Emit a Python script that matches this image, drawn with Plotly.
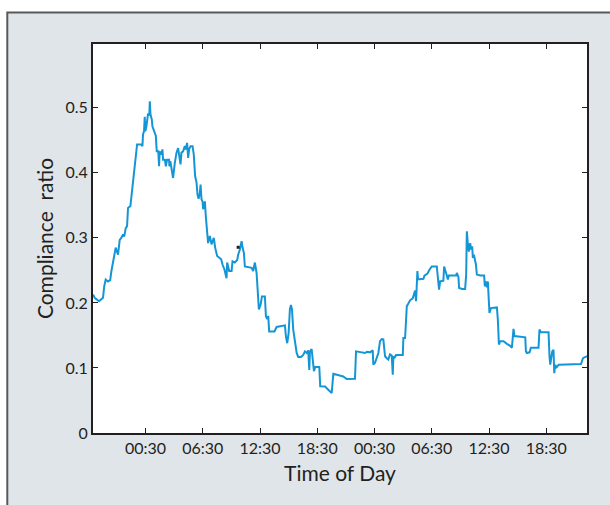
import plotly.graph_objects as go

# hours since 19:00 on day 1
hours = [0.00, 0.18, 0.63, 1.05, 1.17, 1.33, 1.57, 1.80, 1.93, 2.10, 2.38, 2.62, 2.80, 2.96, 3.15, 3.27, 3.43, 3.57, 3.67, 3.92,
         4.20, 4.48, 4.62, 5.08, 5.18, 5.24, 5.35, 5.42, 5.48, 5.58, 5.66, 5.77, 5.90, 5.95, 6.02, 6.16, 6.23, 6.37, 6.47, 6.58,
         6.68, 6.84, 6.92, 6.99, 7.15, 7.28, 7.34, 7.54, 7.63, 7.76, 7.97, 8.00, 8.10, 8.22, 8.39, 8.57, 8.75, 8.92, 9.02, 9.17,
         9.27, 9.44, 9.62, 9.72, 9.86, 9.97, 10.07, 10.22, 10.43, 10.56, 10.70, 10.85, 10.95, 11.06, 11.19, 11.27, 11.37, 11.48, 11.54, 11.72,
         11.82, 11.96, 12.06, 12.24, 12.42, 12.66, 12.80, 13.01, 13.22, 13.43, 13.57, 13.78, 13.99, 14.06, 14.27, 14.52, 14.62, 14.86, 15.11, 15.21,
         15.39, 15.57, 15.67, 15.81, 15.91, 16.28, 16.62, 16.78, 16.96, 17.14, 17.25, 17.38, 17.56, 17.70, 18.01, 18.12, 18.26, 18.36, 18.46, 19.01,
         19.24, 19.66, 20.11, 20.21, 20.35, 20.50, 20.63, 20.74, 20.85, 20.98, 21.16, 21.34, 21.50, 21.79, 22.03, 22.21, 22.39, 22.55, 22.66, 22.73,
         22.91, 23.01, 23.15, 23.29, 23.71, 23.81, 24.31, 24.65, 25.01, 25.18, 25.70, 26.22, 26.58, 27.14, 27.45, 27.56, 27.98, 28.50, 28.71, 29.03,
         29.31, 29.37, 29.55, 29.73, 29.90, 30.07, 30.25, 30.42, 30.60, 30.78, 30.94, 31.12, 31.30, 31.41, 31.47, 31.57, 31.75, 32.46, 32.52, 32.70,
         32.88, 33.04, 33.22, 33.50, 33.64, 33.75, 33.85, 33.92, 33.99, 34.06, 34.45, 34.62, 34.73, 35.04, 35.25, 35.50, 36.02, 36.13, 36.26, 36.37,
         36.71, 36.79, 36.92, 37.07, 37.18, 37.28, 38.05, 38.12, 38.29, 38.36, 38.68, 38.99, 39.10, 39.17, 39.27, 39.38, 39.52, 39.62, 39.73, 39.80,
         39.91, 40.01, 40.12, 40.22, 40.57, 40.98, 41.06, 41.16, 41.27, 41.37, 41.48, 41.54, 41.69, 42.32, 42.42, 42.53, 42.66, 43.01, 43.37, 43.71,
         43.89, 43.99, 44.06, 44.16, 44.76, 45.29, 45.36, 45.46, 45.74, 45.88, 46.68, 46.78, 46.93, 47.73, 47.83, 47.91, 48.01, 48.12, 48.25, 48.33,
         48.43, 48.54, 48.67, 48.82, 50.35, 51.13, 51.34, 51.76]

ratio = [0.213, 0.2077, 0.2025, 0.208, 0.225, 0.236, 0.233, 0.235, 0.249, 0.262, 0.285, 0.274, 0.297, 0.300, 0.305, 0.302, 0.315, 0.318, 0.346, 0.349,
         0.390, 0.426, 0.4435, 0.4435, 0.441, 0.459, 0.464, 0.486, 0.464, 0.470, 0.477, 0.491, 0.488, 0.510, 0.490, 0.482, 0.471, 0.466, 0.4615, 0.457,
         0.433, 0.433, 0.410, 0.433, 0.428, 0.436, 0.420, 0.420, 0.410, 0.420, 0.420, 0.410, 0.418, 0.408, 0.392, 0.415, 0.431, 0.438, 0.425, 0.413,
         0.431, 0.433, 0.441, 0.436, 0.446, 0.423, 0.436, 0.441, 0.441, 0.428, 0.395, 0.385, 0.367, 0.360, 0.368, 0.382, 0.359, 0.356, 0.344, 0.356,
         0.333, 0.308, 0.292, 0.303, 0.290, 0.300, 0.285, 0.272, 0.270, 0.267, 0.259, 0.251, 0.238, 0.262, 0.249, 0.249, 0.264, 0.262, 0.266, 0.274,
         0.282, 0.295, 0.285, 0.277, 0.256, 0.255, 0.254, 0.249, 0.262, 0.246, 0.226, 0.190, 0.197, 0.210, 0.210, 0.179, 0.175, 0.180, 0.156, 0.156,
         0.163, 0.164, 0.1655, 0.149, 0.138, 0.154, 0.190, 0.197, 0.190, 0.159, 0.141, 0.123, 0.117, 0.117, 0.120, 0.1255, 0.123, 0.127, 0.097, 0.125,
         0.129, 0.118, 0.095, 0.1015, 0.1015, 0.0717, 0.0715, 0.0666, 0.0615, 0.091, 0.089, 0.087, 0.083, 0.084, 0.0835, 0.1255, 0.1245, 0.123, 0.125, 0.124,
         0.127, 0.105, 0.108, 0.115, 0.123, 0.141, 0.1445, 0.144, 0.118, 0.115, 0.113, 0.121, 0.119, 0.0897, 0.118, 0.115, 0.120, 0.120, 0.146, 0.146,
         0.195, 0.199, 0.204, 0.207, 0.216, 0.219, 0.2025, 0.2205, 0.249, 0.236, 0.236, 0.237, 0.242, 0.245, 0.251, 0.256, 0.256, 0.2435, 0.2205, 0.233,
         0.234, 0.256, 0.247, 0.242, 0.236, 0.242, 0.242, 0.246, 0.240, 0.223, 0.2215, 0.2215, 0.243, 0.310, 0.292, 0.279, 0.292, 0.282, 0.287, 0.269,
         0.274, 0.2665, 0.259, 0.2435, 0.242, 0.242, 0.2255, 0.233, 0.224, 0.233, 0.205, 0.1846, 0.192, 0.193, 0.174, 0.136, 0.141, 0.141, 0.137, 0.134,
         0.131, 0.1435, 0.160, 0.149, 0.1485, 0.147, 0.1255, 0.123, 0.124, 0.131, 0.131, 0.159, 0.155, 0.155, 0.118, 0.105, 0.115, 0.1255, 0.128, 0.092,
         0.105, 0.100, 0.103, 0.105, 0.1055, 0.106, 0.115, 0.118]

marker_hour = [15.21]
marker_ratio = [0.2855]

tick_hours = [5.5, 11.5, 17.5, 23.5, 29.5, 35.5, 41.5, 47.5]
tick_labels = ["00:30", "06:30", "12:30", "18:30", "00:30", "06:30", "12:30", "18:30"]
y_ticks = [0, 0.1, 0.2, 0.3, 0.4, 0.5]
y_tick_labels = ["0", "0.1", "0.2", "0.3", "0.4", "0.5"]

DARK = "#231f20"
FONT = "Lato, 'Open Sans', sans-serif"

fig = go.Figure()
fig.add_trace(go.Scatter(x=hours, y=ratio, mode="lines",
                         line=dict(color="#1496d6", width=2), showlegend=False, hoverinfo="skip"))
fig.add_trace(go.Scatter(x=marker_hour, y=marker_ratio, mode="markers",
                         marker=dict(symbol="square", size=3, color=DARK), showlegend=False, hoverinfo="skip"))

W, H = 610, 505
L, R, T, B = 93, 23, 44, 72
pw, ph = W - L - R, H - T - B

def px_x(p):
    return (p - L) / pw

def px_y(p):
    return (H - B - p) / ph

# grey panel behind the chart
fig.add_shape(type="rect", xref="paper", yref="paper", layer="below",
              x0=px_x(7.3), x1=px_x(640), y0=px_y(540), y1=px_y(12.5),
              fillcolor="#e0e5e9", line=dict(color="#58595b", width=2))
# white plotting area
fig.add_shape(type="rect", xref="paper", yref="paper", layer="below",
              x0=0, x1=1, y0=0, y1=1, fillcolor="white", line=dict(width=0))

fig.update_layout(
    width=W, height=H,
    margin=dict(l=L, r=R, t=T, b=B),
    paper_bgcolor="white", plot_bgcolor="white",
    font=dict(family=FONT, color=DARK, size=16),
    xaxis=dict(range=[0, 51.76], tickmode="array", tickvals=tick_hours, ticktext=tick_labels,
               ticks="inside", ticklen=5, tickwidth=1, tickcolor=DARK,
               showline=True, linecolor=DARK, linewidth=2, mirror="ticks",
               showgrid=False, zeroline=False,
               tickfont=dict(size=16, family=FONT, color=DARK),
               title=dict(text="Time of Day", font=dict(size=21, family=FONT, color=DARK), standoff=10)),
    yaxis=dict(range=[0, 0.598], tickmode="array", tickvals=y_ticks, ticktext=y_tick_labels,
               ticks="inside", ticklen=5, tickwidth=1, tickcolor=DARK,
               showline=True, linecolor=DARK, linewidth=2, mirror="ticks",
               showgrid=False, zeroline=False,
               tickfont=dict(size=16, family=FONT, color=DARK),
               title=dict(text="Compliance\u00a0 ratio", font=dict(size=21, family=FONT, color=DARK), standoff=6)),
)

fig.write_html("out.html", config={"displayModeBar": False},
               post_script="document.body.style.margin='0';document.body.style.padding='0';")
